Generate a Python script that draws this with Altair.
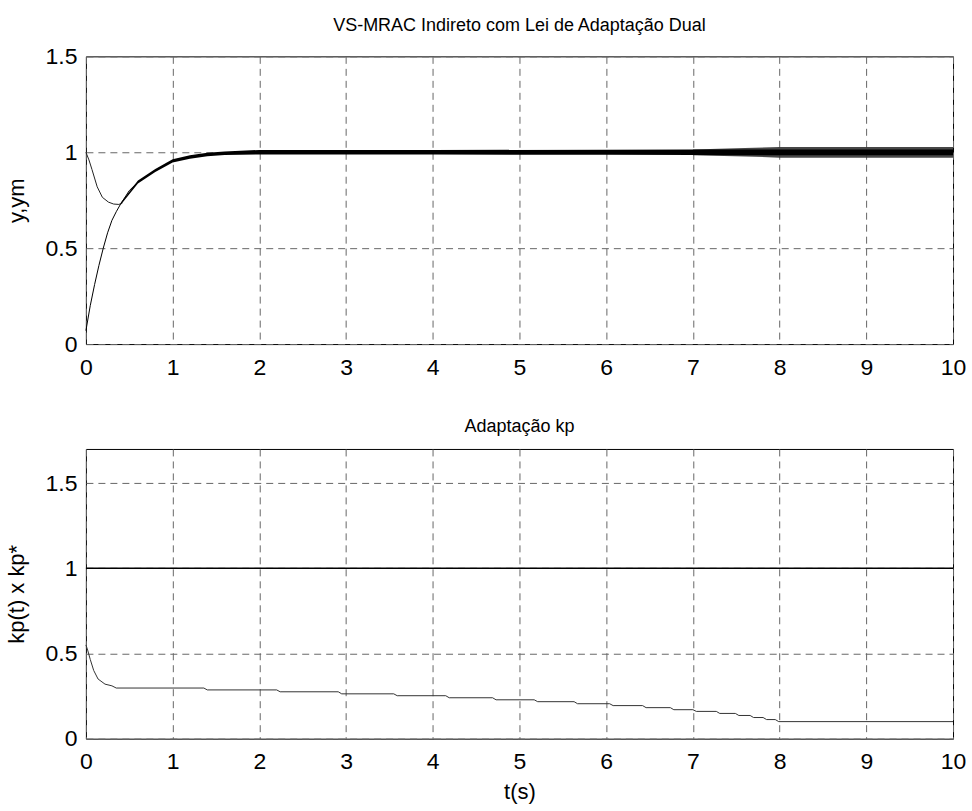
import altair as alt
import pandas as pd

FONT = "Liberation Sans"

title_top = "VS-MRAC Indireto com Lei de Adaptação Dual"
title_bottom = "Adaptação kp"
ylabel_top = "y,ym"
ylabel_bottom = "kp(t) x kp*"
xlabel = "t(s)"

x_ticks = [0, 1, 2, 3, 4, 5, 6, 7, 8, 9, 10]
y_ticks = [0, 0.5, 1, 1.5]

# plant output y (rising curve)
t_y = [0, 0.05, 0.1, 0.15, 0.2, 0.25, 0.3, 0.35, 0.4, 0.5, 0.6, 0.7, 0.8, 0.9, 1.0, 1.2, 1.4, 1.6, 1.8, 2.0, 10.0]
y_vals = [0.07, 0.2, 0.31, 0.41, 0.5, 0.58, 0.645, 0.69, 0.73, 0.80, 0.845, 0.875, 0.905, 0.93, 0.955, 0.975, 0.988, 0.995, 0.999, 1.0, 1.0]

# reference model ym (starts at 1, dips and joins y)
t_ym = [0, 0.035, 0.07, 0.13, 0.19, 0.26, 0.32, 0.38, 0.42]
ym_vals = [1.0, 0.96, 0.91, 0.82, 0.765, 0.74, 0.73, 0.728, 0.735]

# chattering envelope around y
band_t = [0.4, 0.6, 0.8, 1.0, 1.2, 1.4, 1.6, 2.0, 4.0, 6.0, 7.0, 7.6, 8.0, 10.0]
band_lo = [0.725, 0.837, 0.897, 0.946, 0.966, 0.979, 0.986, 0.988, 0.988, 0.987, 0.986, 0.985, 0.985, 0.985]
band_hi = [0.735, 0.853, 0.913, 0.964, 0.984, 0.997, 1.004, 1.012, 1.012, 1.013, 1.014, 1.015, 1.015, 1.015]
outer_t = [7.0, 7.6, 8.0, 10.0]
outer_lo = [0.985, 0.978, 0.972, 0.972]
outer_hi = [1.015, 1.022, 1.028, 1.028]

# adaptation of kp
kp_t = [0, 0.02, 0.05, 0.09, 0.14, 0.22, 0.30, 0.35,
        1.36, 1.40, 2.20, 2.24, 2.91, 2.95, 3.55, 3.59, 4.15, 4.19, 4.69, 4.73,
        5.17, 5.21, 5.63, 5.67, 6.04, 6.08, 6.42, 6.46, 6.74, 6.78, 7.00, 7.04,
        7.27, 7.31, 7.49, 7.53, 7.66, 7.70, 7.81, 7.85, 7.95, 7.99, 10.0]
kp_vals = [0.55, 0.52, 0.465, 0.40, 0.35, 0.32, 0.31, 0.297,
           0.297, 0.286, 0.286, 0.275, 0.275, 0.263, 0.263, 0.252, 0.252, 0.24, 0.24, 0.228,
           0.228, 0.217, 0.217, 0.205, 0.205, 0.194, 0.194, 0.182, 0.182, 0.17, 0.17, 0.16,
           0.16, 0.148, 0.148, 0.136, 0.136, 0.124, 0.124, 0.112, 0.112, 0.1, 0.1]
kp_star = [1.0]

df_y = pd.DataFrame({"t": t_y, "v": y_vals})
df_ym = pd.DataFrame({"t": t_ym, "v": ym_vals})
df_band = pd.DataFrame({"t": band_t, "lo": band_lo, "hi": band_hi})
df_outer = pd.DataFrame({"t": outer_t, "lo": outer_lo, "hi": outer_hi})
df_kp = pd.DataFrame({"t": kp_t, "v": kp_vals})
df_star = pd.DataFrame({"v": kp_star})

xscale = alt.Scale(domain=[0, 10], nice=False, zero=False)


def xenc(with_title):
    if with_title:
        ax = alt.Axis(values=x_ticks, title=xlabel, format="d", labelFlush=False)
    else:
        ax = alt.Axis(values=x_ticks, title=None, format="d", labelFlush=False)
    return alt.X("t:Q", scale=xscale, axis=ax)


def yenc(field, domain, title):
    return alt.Y(field, scale=alt.Scale(domain=domain, nice=False, zero=False),
                 axis=alt.Axis(values=y_ticks, title=title, format="~r", labelFlush=False))


ydom_top = [0, 1.5]
ydom_bot = [0, 1.7]

outer = alt.Chart(df_outer).mark_area(color="#333333", opacity=0.9).encode(
    x=xenc(False), y=yenc("lo:Q", ydom_top, ylabel_top), y2="hi:Q")
band = alt.Chart(df_band).mark_area(color="#000000").encode(
    x=xenc(False), y=yenc("lo:Q", ydom_top, ylabel_top), y2="hi:Q")
line_y = alt.Chart(df_y).mark_line(color="#000000", strokeWidth=1).encode(
    x=xenc(False), y=yenc("v:Q", ydom_top, ylabel_top))
line_ym = alt.Chart(df_ym).mark_line(color="#222222", strokeWidth=1).encode(
    x=xenc(False), y=yenc("v:Q", ydom_top, ylabel_top))

top = alt.layer(outer, band, line_y, line_ym).properties(
    width=868, height=288,
    title=alt.Title(title_top, frame="group", baseline="bottom", offset=-8,
                    fontSize=18, font=FONT, fontWeight="normal", color="black"))

star = alt.Chart(df_star).mark_rule(color="#000000", strokeWidth=1.3).encode(
    y=yenc("v:Q", ydom_bot, ylabel_bottom))
line_kp = alt.Chart(df_kp).mark_line(color="#333333", strokeWidth=1).encode(
    x=xenc(True), y=yenc("v:Q", ydom_bot, ylabel_bottom))

bottom = alt.layer(star, line_kp).properties(
    width=868, height=290,
    title=alt.Title(title_bottom, frame="group", baseline="bottom", offset=-5,
                    fontSize=18, font=FONT, fontWeight="normal", color="black"))

chart = alt.vconcat(top, bottom, spacing=105, bounds="flush").properties(
    padding={"left": 4, "top": 16, "right": 5, "bottom": 9},
    background="white",
).configure_view(
    stroke="#000000", strokeWidth=1
).configure_axis(
    labelFont=FONT, labelFontSize=23, labelColor="#000000",
    titleFont=FONT, titleFontSize=22, titleFontWeight="normal", titleColor="#000000",
    grid=True, gridDash=[7, 5], gridColor="#666666", gridOpacity=1, gridWidth=1,
    domain=False, ticks=False,
).configure_axisX(
    labelPadding=12, titlePadding=8
).configure_axisY(
    labelPadding=9, titlePadding=17
)

chart.save("out.html", embed_options={"renderer": "svg", "actions": False})
